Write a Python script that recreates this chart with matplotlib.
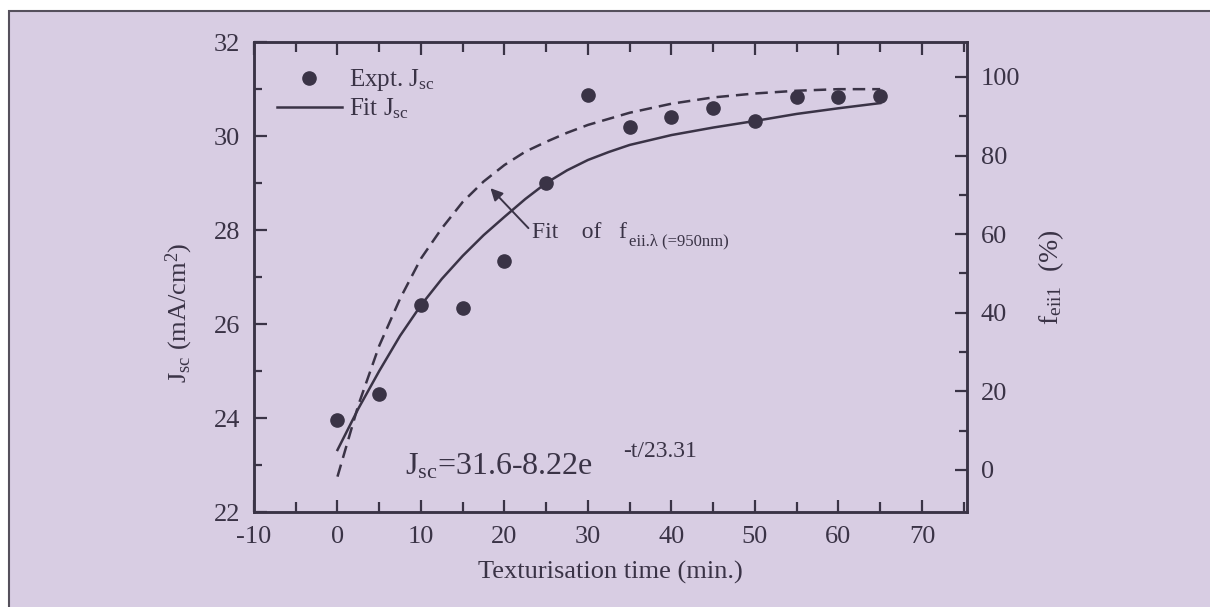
import matplotlib
matplotlib.use('Agg')
import matplotlib.pyplot as plt
from matplotlib.patches import Rectangle
from matplotlib.ticker import MultipleLocator, FixedLocator

plt.rcParams['font.family'] = ['Liberation Serif', 'DejaVu Serif']
plt.rcParams['mathtext.fontset'] = 'custom'
plt.rcParams['mathtext.rm'] = 'Liberation Serif'
plt.rcParams['mathtext.it'] = 'Liberation Serif:italic'
plt.rcParams['axes.unicode_minus'] = False

# experimental Jsc (mA/cm^2)
time_expt = [0, 5, 10, 15, 20, 25, 30, 35, 40, 45, 50, 55, 60, 65]
jsc_expt = [23.96, 24.51, 26.40, 26.34, 27.34, 28.99, 30.87,
            30.20, 30.40, 30.59, 30.32, 30.82, 30.84, 30.85]

# fitted Jsc curve
time_fit = [0, 2.5, 5, 7.5, 10, 12.5, 15, 17.5, 20, 22.5, 25, 27.5, 30, 32.5,
            35, 40, 45, 50, 55, 60, 65]
jsc_fit = [23.32, 24.20, 25.00, 25.75, 26.40, 26.96, 27.45, 27.89, 28.28,
           28.66, 29.00, 29.27, 29.49, 29.66, 29.81, 30.02, 30.18, 30.32,
           30.47, 30.59, 30.70]

# fitted f_eii (lambda = 950 nm) curve, right axis (%)
time_feii = [0, 2.5, 5, 7.5, 10, 12.5, 15, 17.5, 20, 22.5, 25, 27.5, 30,
             35, 40, 45, 50, 55, 60, 65]
feii_fit = [-1.7, 16.5, 31.6, 43.6, 53.8, 61.5, 68.2, 73.4, 77.6, 81.0, 83.5,
            85.8, 87.8, 90.9, 93.2, 94.8, 95.8, 96.5, 96.9, 96.9]

INK = '#3a3346'
BG = '#d8cde3'

fig = plt.figure(figsize=(12.1, 6.07), dpi=100)
fig.patch.set_facecolor('white')
fig.add_artist(Rectangle((9 / 1210, -0.05), 1.2, 1.05 - 11 / 607,
                         transform=fig.transFigure, facecolor=BG,
                         edgecolor='#55505c', lw=1.5, zorder=-10))

ax = fig.add_axes([0.2099, 0.1565, 0.5893, 0.7743])
ax.set_facecolor('none')
ax2 = ax.twinx()

h1, = ax.plot(time_expt, jsc_expt, 'o', ms=9.5, color=INK,
              label=r'Expt. J$_{\mathregular{sc}}$')
h2, = ax.plot(time_fit, jsc_fit, '-', lw=1.8, color=INK,
              label=r'Fit J$_{\mathregular{sc}}$')
ax2.plot(time_feii, feii_fit, '--', lw=1.8, color=INK, dashes=(5, 2.8))

ax.set_xlim(-10, 75.4)
ax.set_ylim(22, 32)
ax2.set_ylim(-10.7, 108.9)

ax.set_xticks(range(-10, 71, 10))
ax.xaxis.set_minor_locator(MultipleLocator(5))
ax.set_yticks(range(22, 33, 2))
ax.yaxis.set_minor_locator(MultipleLocator(1))
ax2.set_yticks(range(0, 101, 20))
ax2.yaxis.set_minor_locator(FixedLocator([10, 30, 50, 70, 90]))

for a in (ax, ax2):
    for s in a.spines.values():
        s.set_linewidth(1.8)
        s.set_color(INK)
    a.tick_params(which='both', direction='in', color=INK, width=1.6,
                  labelsize=19, labelcolor=INK, pad=10)
    a.tick_params(which='major', length=9)
    a.tick_params(which='minor', length=5.5)
ax.tick_params(which='both', top=True, right=False)
ax.tick_params(axis='x', which='minor', length=7)
ax.tick_params(axis='x', which='major', length=9)

ax.set_xlabel('Texturisation time (min.)', fontsize=19, color=INK)
ax.xaxis.set_label_coords(0.5, -0.104)
ax.set_ylabel(r'J$_{\mathregular{sc}}$ (mA/cm$^{\mathregular{2}}$)', fontsize=19, color=INK)
ax.yaxis.set_label_coords(-0.083, 0.425)
ax2.set_ylabel(r'f$_{\mathregular{eii1}}$  (%)', fontsize=20, color=INK)
ax2.yaxis.set_label_coords(1.097, 0.5)

ax.legend(handles=[h1, h2], loc='upper left', bbox_to_anchor=(0.032, 0.946),
          frameon=False, borderpad=0, borderaxespad=0, handlelength=2.6,
          handletextpad=0.3, labelspacing=0.12, fontsize=18, labelcolor=INK)

# arrow pointing to dashed curve
ax.annotate('', xy=(18.32, 28.89), xytext=(22.87, 28.04),
            arrowprops=dict(arrowstyle='-|>', color=INK, lw=1.4, mutation_scale=18,
                            shrinkA=0, shrinkB=0))
t1 = ax.text(23.35, 27.83, 'Fit    of   f', fontsize=17, color=INK, va='baseline')
ax.annotate('eii.\u03bb (=950nm)', xy=(1, 0), xycoords=t1, xytext=(1, -2),
            textcoords='offset points', fontsize=12, color=INK, va='baseline')

ax.text(8.14, 22.79, r'J$_{\mathregular{sc}}$=31.6-8.22e', fontsize=23,
        color=INK, va='baseline')
ax.text(34.25, 23.17, '-t/23.31', fontsize=17, color=INK, va='baseline')

fig.savefig('out.png', dpi=100, facecolor=fig.get_facecolor())
